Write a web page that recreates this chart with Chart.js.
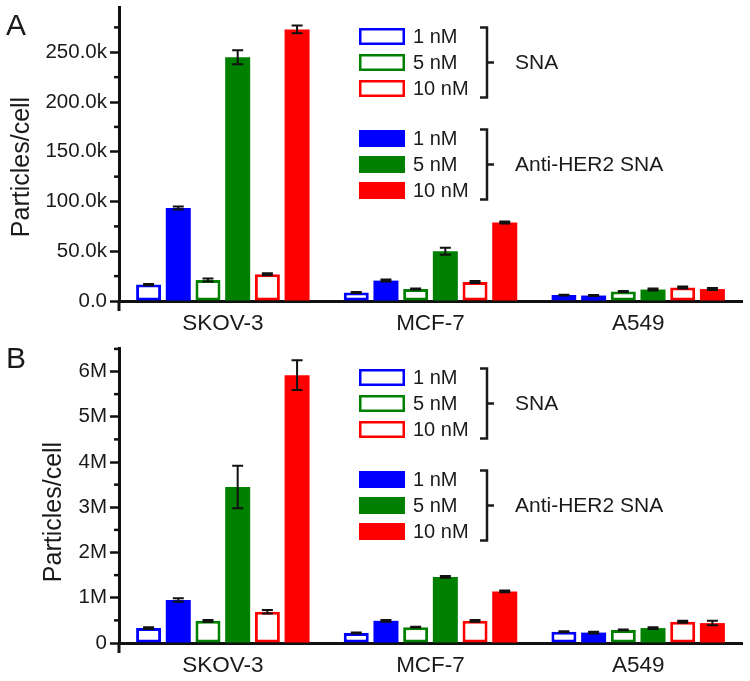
<!DOCTYPE html>
<html><head><meta charset="utf-8">
<script src="https://cdn.jsdelivr.net/npm/chart.js@4.4.1/dist/chart.umd.min.js"></script>
<style>
html,body{margin:0;padding:0;background:#fff;}
#wrap{position:relative;width:750px;height:681px;overflow:hidden;}
.pane{position:absolute;left:0;width:750px;}
</style></head><body>
<div id="wrap">
<div class="pane" style="top:0;height:340px"><canvas id="cA"></canvas></div>
<div class="pane" style="top:340px;height:341px"><canvas id="cB"></canvas></div>
</div>
<script>
// ---------- data ----------
const categories = ['SKOV-3', 'MCF-7', 'A549'];
const concLabels = ['1 nM', '5 nM', '10 nM'];
const groupLabels = ['SNA', 'Anti-HER2 SNA'];

// Panel A (particles/cell)
const snaA_1nM    = [16500, 8500, 6000];
const antiA_1nM   = [93500, 20500, 5500];
const snaA_5nM    = [21000, 12000, 9500];
const antiA_5nM   = [245000, 50000, 11500];
const snaA_10nM   = [27000, 19000, 13500];
const antiA_10nM  = [273000, 79000, 12000];
const errSnaA_1nM   = [600, 500, 400];
const errAntiA_1nM  = [1500, 1000, 500];
const errSnaA_5nM   = [1500, 500, 500];
const errAntiA_5nM  = [7000, 3500, 1000];
const errSnaA_10nM  = [1000, 1000, 1000];
const errAntiA_10nM = [4000, 1000, 1000];
const tickValuesA = [0, 50000, 100000, 150000, 200000, 250000];
const tickLabelsA = ['0.0', '50.0k', '100.0k', '150.0k', '200.0k', '250.0k'];
const minorTicksA = [25000, 75000, 125000, 175000, 225000, 275000];

// Panel B (particles/cell)
const snaB_1nM    = [330000, 220000, 250000];
const antiB_1nM   = [950000, 490000, 230000];
const snaB_5nM    = [490000, 350000, 290000];
const antiB_5nM   = [3450000, 1460000, 330000];
const snaB_10nM   = [690000, 490000, 470000];
const antiB_10nM  = [5920000, 1140000, 440000];
const errSnaB_1nM   = [20000, 10000, 10000];
const errAntiB_1nM  = [40000, 20000, 20000];
const errSnaB_5nM   = [20000, 10000, 10000];
const errAntiB_5nM  = [470000, 20000, 20000];
const errSnaB_10nM  = [40000, 20000, 20000];
const errAntiB_10nM = [330000, 20000, 50000];
const tickValuesB = [0, 1000000, 2000000, 3000000, 4000000, 5000000, 6000000];
const tickLabelsB = ['0', '1M', '2M', '3M', '4M', '5M', '6M'];
const minorTicksB = [500000, 1500000, 2500000, 3500000, 4500000, 5500000, 6500000];

// ---------- styling ----------
const BLUE = '#0000ff', GREEN = '#008000', RED = '#ff0000';
const FONT = "'Liberation Sans', Arial, Helvetica, sans-serif";
Chart.defaults.font.family = FONT;
Chart.defaults.color = '#1a1a1a';

function mkDatasets(vals, errs) {
  const cols = [BLUE, BLUE, GREEN, GREEN, RED, RED];
  return vals.map((v, i) => {
    const hollow = i % 2 === 0;
    return {
      label: groupLabels[hollow ? 0 : 1] + ' ' + concLabels[Math.floor(i / 2)],
      data: v,
      errors: errs[i],
      backgroundColor: hollow ? '#ffffff' : cols[i],
      borderColor: cols[i],
      borderWidth: hollow ? 3 : 0,
      borderSkipped: false,
      categoryPercentage: 0.858,
      barPercentage: 0.842
    };
  });
}

const errorBarPlugin = {
  id: 'errorBars',
  afterDatasetsDraw(chart) {
    const ctx = chart.ctx, ys = chart.scales.y;
    ctx.save();
    ctx.strokeStyle = '#111';
    ctx.lineWidth = 2;
    chart.data.datasets.forEach((ds, di) => {
      const meta = chart.getDatasetMeta(di);
      meta.data.forEach((bar, i) => {
        const v = ds.data[i], e = ds.errors[i];
        const yT = ys.getPixelForValue(v + e), yB = ys.getPixelForValue(v - e);
        const x = bar.x, cap = 5.5;
        ctx.beginPath();
        ctx.moveTo(x, yT); ctx.lineTo(x, yB);
        ctx.moveTo(x - cap, yT); ctx.lineTo(x + cap, yT);
        ctx.moveTo(x - cap, yB); ctx.lineTo(x + cap, yB);
        ctx.stroke();
      });
    });
    ctx.restore();
  }
};

const decorPlugin = {
  id: 'decor',
  afterDraw(chart, args, opts) {
    const ctx = chart.ctx, ca = chart.chartArea, ys = chart.scales.y;
    ctx.save();
    // minor ticks
    ctx.strokeStyle = '#111'; ctx.lineWidth = 2.5;
    opts.minor.forEach(v => {
      const y = ys.getPixelForValue(v);
      ctx.beginPath(); ctx.moveTo(ca.left - 5, y); ctx.lineTo(ca.left, y); ctx.stroke();
    });
    // y axis extension below x axis
    ctx.lineWidth = 3;
    ctx.beginPath(); ctx.moveTo(ca.left, ca.bottom); ctx.lineTo(ca.left, ca.bottom + 10); ctx.stroke();
    // panel letter
    ctx.fillStyle = '#1a1a1a';
    ctx.font = '30px ' + FONT;
    ctx.textBaseline = 'alphabetic'; ctx.textAlign = 'left';
    ctx.fillText(opts.letter, 6, opts.letterY);
    // y title
    ctx.save();
    ctx.translate(opts.titleX, opts.titleY);
    ctx.rotate(-Math.PI / 2);
    ctx.font = '25px ' + FONT;
    ctx.textAlign = 'center'; ctx.textBaseline = 'middle';
    ctx.fillText('Particles/cell', 0, 0);
    ctx.restore();
    // legend
    const bx = 359, bw = 46, bh = 17, step = 26;
    const cols = [BLUE, GREEN, RED];
    [0, 1].forEach(g => {
      const c0 = ca.top + (g === 0 ? 29.5 : 131.5);
      for (let k = 0; k < 3; k++) {
        const cy = c0 + k * step;
        if (g === 0) {
          ctx.fillStyle = '#fff'; ctx.fillRect(bx, cy - bh / 2, bw, bh);
          ctx.strokeStyle = cols[k]; ctx.lineWidth = 2.5;
          ctx.strokeRect(bx + 1.25, cy - bh / 2 + 1.25, bw - 2.5, bh - 2.5);
        } else {
          ctx.fillStyle = cols[k]; ctx.fillRect(bx, cy - bh / 2, bw, bh);
        }
        ctx.fillStyle = '#1a1a1a';
        ctx.font = '20px ' + FONT;
        ctx.textAlign = 'left'; ctx.textBaseline = 'middle';
        ctx.fillText(concLabels[k], bx + 54, cy + 1);
      }
      // bracket
      const top = c0 - 9, bot = c0 + 2 * step + 9, mid = (top + bot) / 2, x = 487;
      ctx.strokeStyle = '#1a1a1a'; ctx.lineWidth = 2.5;
      ctx.beginPath();
      ctx.moveTo(x - 7, top); ctx.lineTo(x, top); ctx.lineTo(x, bot); ctx.lineTo(x - 7, bot);
      ctx.moveTo(x, mid); ctx.lineTo(x + 7, mid);
      ctx.stroke();
      ctx.fillStyle = '#1a1a1a';
      ctx.font = '21px ' + FONT;
      ctx.textAlign = 'left'; ctx.textBaseline = 'middle';
      ctx.fillText(groupLabels[g], 515, mid + 1);
    });
    ctx.restore();
  }
};

function makeChart(id, vals, errs, maxV, tickVals, tickLabels, minor, letter, letterY, titleX, titleY, bottomH, topPad) {
  return new Chart(document.getElementById(id), {
    type: 'bar',
    data: { labels: categories, datasets: mkDatasets(vals, errs) },
    options: {
      responsive: true, maintainAspectRatio: false, animation: false,
      layout: { padding: { top: topPad, right: 8, left: 0, bottom: 0 } },
      plugins: {
        legend: { display: false }, tooltip: { enabled: false },
        decor: { minor: minor, letter: letter, letterY: letterY, titleX: titleX, titleY: titleY }
      },
      scales: {
        x: {
          offset: true,
          grid: { display: false, drawTicks: false },
          border: { display: true, color: '#111', width: 3 },
          ticks: { font: { size: 22.5 }, color: '#1a1a1a', padding: 9 },
          afterFit(s) { s.height = bottomH; s.paddingLeft = 0; s.paddingRight = 0; }
        },
        y: {
          min: 0, max: maxV,
          grid: { drawOnChartArea: false, tickLength: 9, tickWidth: 2.5, tickColor: '#111' },
          border: { display: true, color: '#111', width: 3 },
          ticks: {
            font: { size: 20.5 }, color: '#1a1a1a', padding: 3,
            callback: (v) => { const i = tickVals.indexOf(v); return i >= 0 ? tickLabels[i] : ''; }
          },
          afterBuildTicks(s) { s.ticks = tickVals.map(v => ({ value: v })); },
          afterFit(s) { s.width = 119; s.paddingTop = 0; s.paddingBottom = 0; }
        }
      }
    },
    plugins: [errorBarPlugin, decorPlugin]
  });
}

makeChart('cA',
  [snaA_1nM, antiA_1nM, snaA_5nM, antiA_5nM, snaA_10nM, antiA_10nM],
  [errSnaA_1nM, errAntiA_1nM, errSnaA_5nM, errAntiA_5nM, errSnaA_10nM, errAntiA_10nM],
  295500, tickValuesA, tickLabelsA, minorTicksA, 'A', 35, 22, 167, 39, 7);

makeChart('cB',
  [snaB_1nM, antiB_1nM, snaB_5nM, antiB_5nM, snaB_10nM, antiB_10nM],
  [errSnaB_1nM, errAntiB_1nM, errSnaB_5nM, errAntiB_5nM, errSnaB_10nM, errAntiB_10nM],
  6520000, tickValuesB, tickLabelsB, minorTicksB, 'B', 28, 54, 172, 38, 8);
</script>
</body></html>
